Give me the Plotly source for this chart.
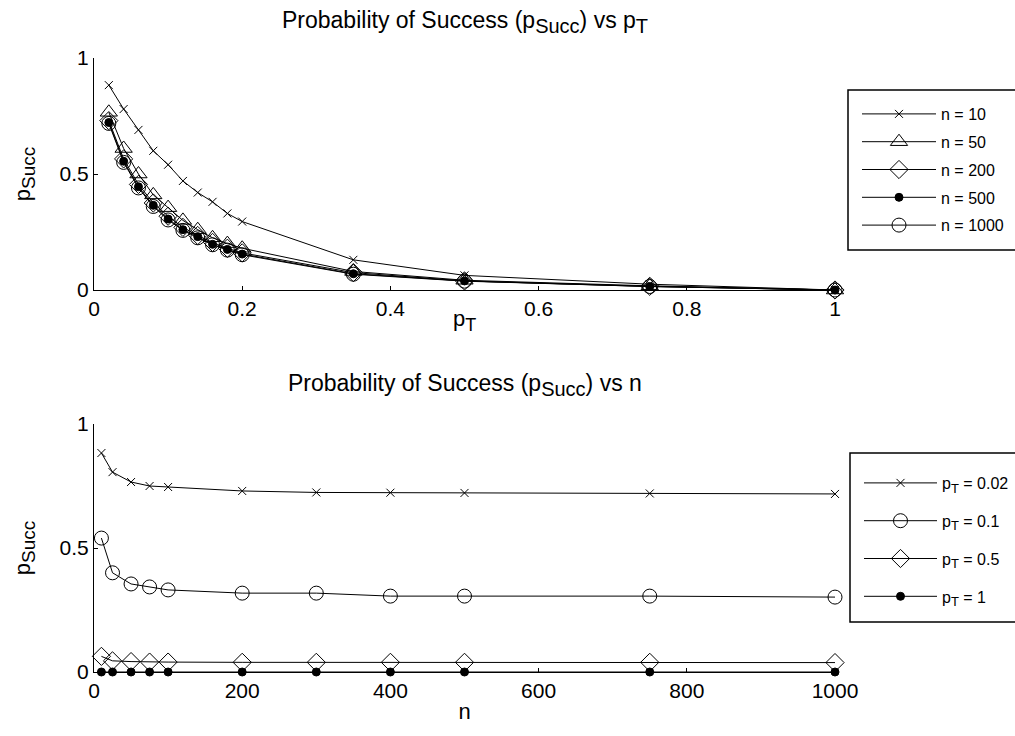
import plotly.graph_objects as go

# Success probability against target probability, one curve per population size
p_t = [0.02, 0.04, 0.06, 0.08, 0.10, 0.12, 0.14, 0.16, 0.18, 0.20, 0.35, 0.50, 0.75, 1.00]
succ_n10 = [0.883, 0.78, 0.69, 0.60, 0.54, 0.47, 0.42, 0.38, 0.33, 0.295, 0.13, 0.063, 0.025, 0.0]
succ_n50 = [0.766, 0.61, 0.50, 0.41, 0.355, 0.30, 0.26, 0.225, 0.20, 0.18, 0.08, 0.042, 0.018, 0.0]
succ_n200 = [0.73, 0.565, 0.455, 0.375, 0.318, 0.27, 0.235, 0.205, 0.18, 0.16, 0.075, 0.039, 0.016, 0.0]
succ_n500 = [0.722, 0.555, 0.445, 0.365, 0.306, 0.26, 0.23, 0.197, 0.175, 0.155, 0.07, 0.039, 0.015, 0.0]
succ_n1000 = [0.718, 0.55, 0.44, 0.36, 0.302, 0.257, 0.225, 0.195, 0.172, 0.152, 0.068, 0.038, 0.015, 0.0]

# Success probability against population size, one curve per target probability
n_vals = [10, 25, 50, 75, 100, 200, 300, 400, 500, 750, 1000]
succ_p002 = [0.883, 0.806, 0.766, 0.75, 0.746, 0.73, 0.724, 0.723, 0.722, 0.72, 0.718]
succ_p01 = [0.54, 0.40, 0.355, 0.343, 0.331, 0.318, 0.318, 0.306, 0.306, 0.306, 0.302]
succ_p05 = [0.063, 0.045, 0.042, 0.040, 0.040, 0.039, 0.039, 0.039, 0.039, 0.039, 0.038]
succ_p1 = [0.0] * len(n_vals)


def sub(text, px):
    """Subscript kept close to full size."""
    return f"<sub><span style='font-size:{px}px'>{text}</span></sub>"


top_series = [
    ("n = 10", succ_n10, "x-thin-open", 8),
    ("n = 50", succ_n50, "triangle-up-open", 15),
    ("n = 200", succ_n200, "diamond-open", 14),
    ("n = 500", succ_n500, "circle", 8),
    ("n = 1000", succ_n1000, "circle-open", 14),
]
bottom_series = [
    ("p" + sub("T", 13) + " = 0.02", succ_p002, "x-thin-open", 8),
    ("p" + sub("T", 13) + " = 0.1", succ_p01, "circle-open", 14),
    ("p" + sub("T", 13) + " = 0.5", succ_p05, "diamond-open", 14),
    ("p" + sub("T", 13) + " = 1", succ_p1, "circle", 8),
]

FONT = "Liberation Sans, Arial, sans-serif"
fig = go.Figure()

for i, (name, ys, sym, size) in enumerate(top_series):
    fig.add_trace(go.Scatter(
        x=p_t, y=ys, name=name, mode="lines+markers",
        line=dict(color="black", width=1),
        marker=dict(symbol=sym, size=size, color="black",
                    line=dict(color="black", width=1)),
        xaxis="x", yaxis="y", legend="legend", legendgroup=f"a{i}",
        cliponaxis=False,
    ))

for i, (name, ys, sym, size) in enumerate(bottom_series):
    fig.add_trace(go.Scatter(
        x=n_vals, y=ys, name=name, mode="lines+markers",
        line=dict(color="black", width=1),
        marker=dict(symbol=sym, size=size, color="black",
                    line=dict(color="black", width=1)),
        xaxis="x2", yaxis="y2", legend="legend2", legendgroup=f"b{i}",
        cliponaxis=False,
    ))

axis_common = dict(
    showline=True, linecolor="black", linewidth=1, mirror=False,
    ticks="inside", ticklen=4, tickcolor="black",
    showgrid=False, zeroline=False,
    tickfont=dict(family=FONT, size=21, color="black"),
)
title_font = dict(family=FONT, size=22, color="black")

# pixel geometry of the stacked panels
W, H = 1015, 736
M_L, M_R, M_T, M_B = 94, 180, 58, 64
plot_w = W - M_L - M_R
plot_h = H - M_T - M_B


def px_x(px):
    return (px - M_L) / plot_w


def px_y(py):
    return (H - M_B - py) / plot_h


fig.update_layout(
    width=W, height=H,
    margin=dict(l=M_L, r=M_R, t=M_T, b=M_B, autoexpand=False),
    paper_bgcolor="white", plot_bgcolor="white",
    font=dict(family=FONT, color="black"),
    showlegend=True,
    xaxis=dict(domain=[0, 1], range=[0, 1], dtick=0.2, anchor="y",
               **axis_common),
    yaxis=dict(domain=[px_y(290), 1], range=[0, 1], dtick=0.5, anchor="x",
               title=dict(text="p" + sub("Succ", 19), font=title_font, standoff=22),
               **axis_common),
    xaxis2=dict(domain=[0, 1], range=[0, 1000], dtick=200, anchor="y2",
                title=dict(text="n", font=title_font, standoff=2),
                **axis_common),
    yaxis2=dict(domain=[0, px_y(424)], range=[0, 1], dtick=0.5, anchor="x2",
                title=dict(text="p" + sub("Succ", 19), font=title_font, standoff=22),
                **axis_common),
    legend=dict(x=px_x(857), y=px_y(97), xanchor="left", yanchor="top",
                borderwidth=0, bgcolor="rgba(0,0,0,0)",
                font=dict(family=FONT, size=16, color="black"),
                itemwidth=74, tracegroupgap=4, traceorder="grouped"),
    legend2=dict(x=px_x(859), y=px_y(466), xanchor="left", yanchor="top",
                 borderwidth=0, bgcolor="rgba(0,0,0,0)",
                 font=dict(family=FONT, size=16, color="black"),
                 itemwidth=73, tracegroupgap=14, traceorder="grouped"),
    shapes=[
        # legend frames, running off the right edge of the figure
        dict(type="rect", xref="paper", yref="paper",
             x0=px_x(848), x1=px_x(1030), y0=px_y(250), y1=px_y(90),
             line=dict(color="black", width=1.5), fillcolor="white", layer="below"),
        dict(type="rect", xref="paper", yref="paper",
             x0=px_x(850), x1=px_x(1030), y0=px_y(622), y1=px_y(453),
             line=dict(color="black", width=1.5), fillcolor="white", layer="below"),
    ],
    annotations=[
        dict(text="Probability of Success (p" + sub("Succ", 20) + ") vs p" + sub("T", 20),
             x=0.5, y=px_y(22), xref="paper", yref="paper", showarrow=False,
             xanchor="center", yanchor="middle",
             font=dict(family=FONT, size=23, color="black")),
        dict(text="Probability of Success (p" + sub("Succ", 20) + ") vs n",
             x=0.5, y=px_y(385), xref="paper", yref="paper", showarrow=False,
             xanchor="center", yanchor="middle",
             font=dict(family=FONT, size=23, color="black")),
        # x-axis title of the upper panel, set just under its tick labels
        dict(text="p" + sub("T", 18),
             x=0.5, y=px_y(320), xref="paper", yref="paper", showarrow=False,
             xanchor="center", yanchor="middle",
             font=title_font),
    ],
)

fig.write_html("out.html")
